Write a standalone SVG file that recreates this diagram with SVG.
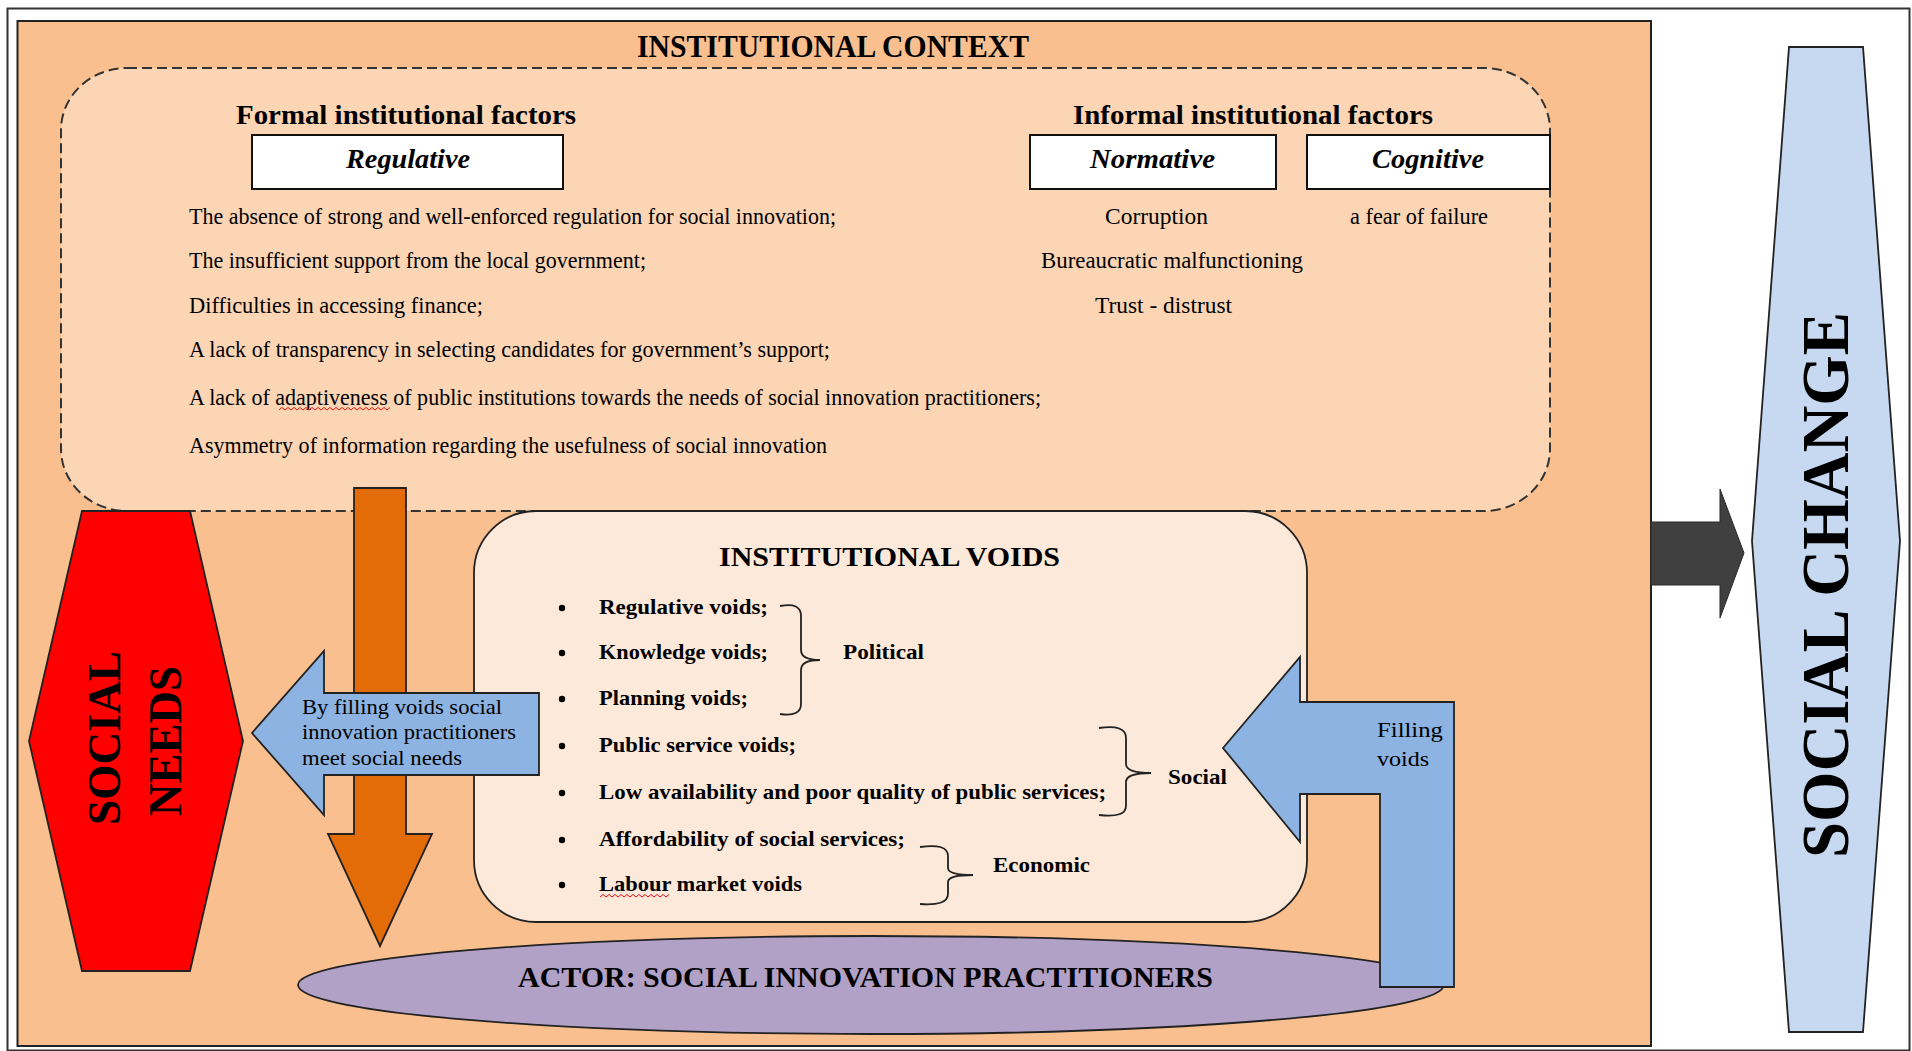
<svg xmlns="http://www.w3.org/2000/svg" width="1912" height="1051" viewBox="0 0 1912 1051">
<style>
text{font-family:"Liberation Serif","Times New Roman",serif;fill:#000}
.b{font-weight:bold}
.bi{font-weight:bold;font-style:italic}
.hd{font-size:28px;font-weight:bold}
.body{font-size:23px}
.item{font-size:22px;font-weight:bold}
.small{font-size:21px}
.shape{stroke:#222;stroke-width:1.8}
.brace{fill:none;stroke:#222;stroke-width:1.8}
.squig{fill:none;stroke:#e01010;stroke-width:1}
</style>
<rect x="0" y="0" width="1912" height="1051" fill="#fff"/>
<rect x="7.5" y="8.5" width="1902" height="1042" fill="#fff" stroke="#333" stroke-width="2"/>

<g id="institutional-context">
<rect x="17.5" y="21" width="1633.5" height="1025" fill="#FABF8F" stroke="#222" stroke-width="2"/>
<text class="b" x="637" y="57" font-size="31" textLength="392" lengthAdjust="spacingAndGlyphs">INSTITUTIONAL CONTEXT</text>
</g>

<g id="factors-area">
<rect x="61" y="68" width="1489" height="443" rx="66" ry="62" fill="#FCD5B4" stroke="#333" stroke-width="2" stroke-dasharray="10 5"/>
<text class="hd" x="236" y="124" textLength="340" lengthAdjust="spacingAndGlyphs">Formal institutional factors</text>
<text class="hd" x="1073" y="124" textLength="360" lengthAdjust="spacingAndGlyphs">Informal institutional factors</text>
</g>

<g id="regulative">
<rect x="252" y="135" width="311" height="54" fill="#fff" stroke="#111" stroke-width="2"/>
<text class="bi" x="346" y="168" font-size="28" textLength="124" lengthAdjust="spacingAndGlyphs">Regulative</text>
<text class="body" x="189" y="224" textLength="647" lengthAdjust="spacingAndGlyphs">The absence of strong and well-enforced regulation for social innovation;</text>
<text class="body" x="189" y="268" textLength="457" lengthAdjust="spacingAndGlyphs">The insufficient support from the local government;</text>
<text class="body" x="189" y="313" textLength="294" lengthAdjust="spacingAndGlyphs">Difficulties in accessing finance;</text>
<text class="body" x="189" y="357" textLength="641" lengthAdjust="spacingAndGlyphs">A lack of transparency in selecting candidates for government’s support;</text>
<text class="body" x="189" y="405" textLength="852" lengthAdjust="spacingAndGlyphs">A lack of adaptiveness of public institutions towards the needs of social innovation practitioners;</text>
<path class="squig" d="M279 410 l3 -2.5 l3 2.5 l3 -2.5 l3 2.5 l3 -2.5 l3 2.5 l3 -2.5 l3 2.5 l3 -2.5 l3 2.5 l3 -2.5 l3 2.5 l3 -2.5 l3 2.5 l3 -2.5 l3 2.5 l3 -2.5 l3 2.5 l3 -2.5 l3 2.5 l3 -2.5 l3 2.5 l3 -2.5 l3 2.5 l3 -2.5 l3 2.5 l3 -2.5 l3 2.5 l3 -2.5 l3 2.5 l3 -2.5 l3 2.5 l3 -2.5 l3 2.5 l3 -2.5 l3 2.5 l3 -2.5"/>
<text class="body" x="189" y="453" textLength="638" lengthAdjust="spacingAndGlyphs">Asymmetry of information regarding the usefulness of social innovation</text>
</g>

<g id="normative">
<rect x="1030" y="135" width="246" height="54" fill="#fff" stroke="#111" stroke-width="2"/>
<text class="bi" x="1090" y="168" font-size="28" textLength="125" lengthAdjust="spacingAndGlyphs">Normative</text>
<text class="body" x="1105" y="224" textLength="103" lengthAdjust="spacingAndGlyphs">Corruption</text>
<text class="body" x="1041" y="268" textLength="262" lengthAdjust="spacingAndGlyphs">Bureaucratic malfunctioning</text>
<text class="body" x="1095" y="313" textLength="137" lengthAdjust="spacingAndGlyphs">Trust - distrust</text>
</g>

<g id="cognitive">
<rect x="1307" y="135" width="243" height="54" fill="#fff" stroke="#111" stroke-width="2"/>
<text class="bi" x="1372" y="168" font-size="28" textLength="112" lengthAdjust="spacingAndGlyphs">Cognitive</text>
<text class="body" x="1350" y="224" textLength="138" lengthAdjust="spacingAndGlyphs">a fear of failure</text>
</g>

<g id="institutional-voids">
<rect x="474" y="511" width="833" height="411" rx="62" ry="62" fill="#FDE9D9" stroke="#222" stroke-width="1.8"/>
<text class="hd" x="719" y="566" textLength="341" lengthAdjust="spacingAndGlyphs">INSTITUTIONAL VOIDS</text>
<g fill="#000">
<circle cx="562" cy="608" r="3.2"/><circle cx="562" cy="653" r="3.2"/><circle cx="562" cy="699" r="3.2"/>
<circle cx="562" cy="746" r="3.2"/><circle cx="562" cy="793" r="3.2"/><circle cx="562" cy="840" r="3.2"/><circle cx="562" cy="885" r="3.2"/>
</g>
<text class="item" x="599" y="614" textLength="169" lengthAdjust="spacingAndGlyphs">Regulative voids;</text>
<text class="item" x="599" y="659" textLength="169" lengthAdjust="spacingAndGlyphs">Knowledge voids;</text>
<text class="item" x="599" y="705" textLength="149" lengthAdjust="spacingAndGlyphs">Planning voids;</text>
<text class="item" x="599" y="752" textLength="197" lengthAdjust="spacingAndGlyphs">Public service voids;</text>
<text class="item" x="599" y="799" textLength="507" lengthAdjust="spacingAndGlyphs">Low availability and poor quality of public services;</text>
<text class="item" x="599" y="846" textLength="306" lengthAdjust="spacingAndGlyphs">Affordability of social services;</text>
<text class="item" x="599" y="891" textLength="203" lengthAdjust="spacingAndGlyphs">Labour market voids</text>
<path class="squig" d="M600 897 l3 -2.5 l3 2.5 l3 -2.5 l3 2.5 l3 -2.5 l3 2.5 l3 -2.5 l3 2.5 l3 -2.5 l3 2.5 l3 -2.5 l3 2.5 l3 -2.5 l3 2.5 l3 -2.5 l3 2.5 l3 -2.5 l3 2.5 l3 -2.5 l3 2.5 l3 -2.5 l3 2.5 l3 -2.5"/>
<path class="brace" d="M780 606 Q801 602 801 616 L801 650 Q801 660 820 660 Q801 660 801 670 L801 704 Q801 717 780 714"/>
<text class="item" x="843" y="659" textLength="81" lengthAdjust="spacingAndGlyphs">Political</text>
<path class="brace" d="M1099 728 Q1126 724 1126 738 L1126 764 Q1126 773 1151 773 Q1126 773 1126 782 L1126 806 Q1126 818 1099 815"/>
<text class="item" x="1168" y="784" textLength="59" lengthAdjust="spacingAndGlyphs">Social</text>
<path class="brace" d="M920 847 Q948 843 948 856 L948 868 Q948 875 973 875 Q948 875 948 882 L948 894 Q948 906 920 904"/>
<text class="item" x="993" y="872" textLength="97" lengthAdjust="spacingAndGlyphs">Economic</text>
</g>

<g id="social-needs">
<polygon class="shape" points="82,511 190,511 243,741 190,971 82,971 29,741" fill="#FF0000"/>
<text class="b" transform="translate(120,738) rotate(-90)" text-anchor="middle" font-size="46" textLength="174" lengthAdjust="spacingAndGlyphs">SOCIAL</text>
<text class="b" transform="translate(181,741) rotate(-90)" text-anchor="middle" font-size="46" textLength="150" lengthAdjust="spacingAndGlyphs">NEEDS</text>
</g>

<g id="actor">
<ellipse class="shape" cx="871" cy="985" rx="573" ry="49" fill="#B2A1C7"/>
<text class="b" x="518" y="987" font-size="29" textLength="695" lengthAdjust="spacingAndGlyphs">ACTOR: SOCIAL INNOVATION PRACTITIONERS</text>
</g>

<g id="connectors">
<polygon id="down-arrow" class="shape" points="354,488 406,488 406,834 432,834 380,946 328,834 354,834" fill="#E36C09"/>
<g id="meet-needs-arrow">
<polygon class="shape" points="252,733 324,651 324,693 539,693 539,775 324,775 324,815" fill="#8DB3E2"/>
<text class="small" x="302" y="714" textLength="200" lengthAdjust="spacingAndGlyphs">By filling voids social</text>
<text class="small" x="302" y="739" textLength="214" lengthAdjust="spacingAndGlyphs">innovation practitioners</text>
<text class="small" x="302" y="765" textLength="160" lengthAdjust="spacingAndGlyphs">meet social needs</text>
</g>
<g id="filling-voids-arrow">
<polygon class="shape" points="1223,748 1300,657 1300,702 1454,702 1454,987 1380,987 1380,794 1300,794 1300,842" fill="#8DB3E2"/>
<text class="small" x="1377" y="737" textLength="66" lengthAdjust="spacingAndGlyphs">Filling</text>
<text class="small" x="1377" y="766" textLength="52" lengthAdjust="spacingAndGlyphs">voids</text>
</g>
<polygon id="change-arrow" points="1651,522 1720,522 1720,489 1744,553 1720,618 1720,585 1651,585" fill="#404040" stroke="#2a2a2a" stroke-width="1"/>
</g>

<g id="social-change">
<polygon class="shape" points="1789,47 1863,47 1900,541 1863,1032 1789,1032 1752,541" fill="#C6D9F1"/>
<text class="b" transform="translate(1848,585) rotate(-90)" text-anchor="middle" font-size="68" textLength="546" lengthAdjust="spacingAndGlyphs">SOCIAL CHANGE</text>
</g>
</svg>
